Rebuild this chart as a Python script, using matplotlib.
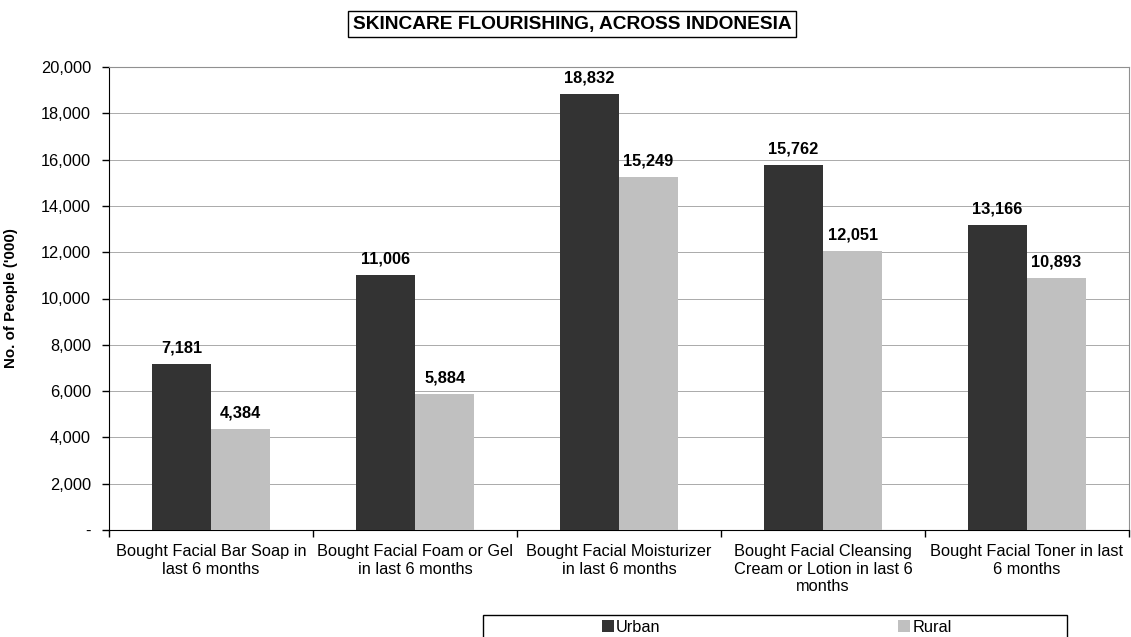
import numpy as np
import matplotlib
matplotlib.use("Agg")
import matplotlib.pyplot as plt
from matplotlib.patches import Rectangle
from matplotlib.ticker import FuncFormatter

plt.rcParams['font.family'] = ['Liberation Sans', 'DejaVu Sans']

categories = ["Bought Facial Bar Soap in\nlast 6 months",
              "Bought Facial Foam or Gel\nin last 6 months",
              "Bought Facial Moisturizer\nin last 6 months",
              "Bought Facial Cleansing\nCream or Lotion in last 6\nmonths",
              "Bought Facial Toner in last\n6 months"]
urban = [7181, 11006, 18832, 15762, 13166]
rural = [4384, 5884, 15249, 12051, 10893]

fig = plt.figure(figsize=(11.31, 6.37), dpi=100)
ax = fig.add_axes([109/1131, 1-530/637, 1020/1131, 463/637])

x = np.arange(len(categories))
w = 0.29
b1 = ax.bar(x - w/2, urban, w, color='#333333', label='Urban', zorder=3)
b2 = ax.bar(x + w/2, rural, w, color='#c0c0c0', label='Rural', zorder=3)

for bars, vals in [(b1, urban), (b2, rural)]:
    for r, v in zip(bars, vals):
        ax.annotate(f"{v:,}", (r.get_x() + r.get_width()/2, v), xytext=(0, 6),
                    textcoords='offset points', ha='center', va='bottom',
                    fontsize=11.8, fontweight='bold')

ax.set_xlim(-0.5, 4.5)
ax.set_ylim(0, 20000)
ax.set_yticks(np.arange(0, 20001, 2000))
ax.yaxis.set_major_formatter(FuncFormatter(lambda v, p: '-' if v == 0 else f"{int(v):,}"))
ax.set_xticks(x)
ax.set_xticklabels(categories, fontsize=11.8, linespacing=1.22)
ax.set_xticks(np.arange(-0.5, 4.6, 1), minor=True)
ax.tick_params(axis='x', which='major', length=0, pad=10)
ax.tick_params(axis='x', which='minor', length=5, width=1)
ax.tick_params(axis='y', length=5, width=1, labelsize=11.8, pad=8)
ax.grid(axis='y', color='#aaaaaa', linewidth=0.7, zorder=0)

ax.spines['left'].set_color('black')
ax.spines['bottom'].set_color('black')
ax.spines['top'].set_color('#909090')
ax.spines['right'].set_color('#909090')

ax.set_ylabel("No. of People ('000)", fontsize=10.9, fontweight='bold')
ax.yaxis.set_label_coords(-0.089, 0.5)

fig.text(572/1131, 1-24/637, "SKINCARE FLOURISHING, ACROSS INDONESIA",
         ha='center', va='center', fontsize=13.8, fontweight='bold',
         bbox=dict(boxstyle='square,pad=0.25', facecolor='white', edgecolor='black', linewidth=1))

fig.patches.append(Rectangle((483/1131, -0.02), 584/1131, 0.02 + (637-615)/637,
                             transform=fig.transFigure, fill=False, edgecolor='black', linewidth=1))
fig.legend(handles=[b1, b2], loc='center', bbox_to_anchor=(777/1131, 1-627/637),
           ncol=2, frameon=False, fontsize=11.8, handlelength=0.7, handleheight=0.7,
           handletextpad=0.15, columnspacing=14.5, borderpad=0)

fig.savefig('out.png', dpi=100)
